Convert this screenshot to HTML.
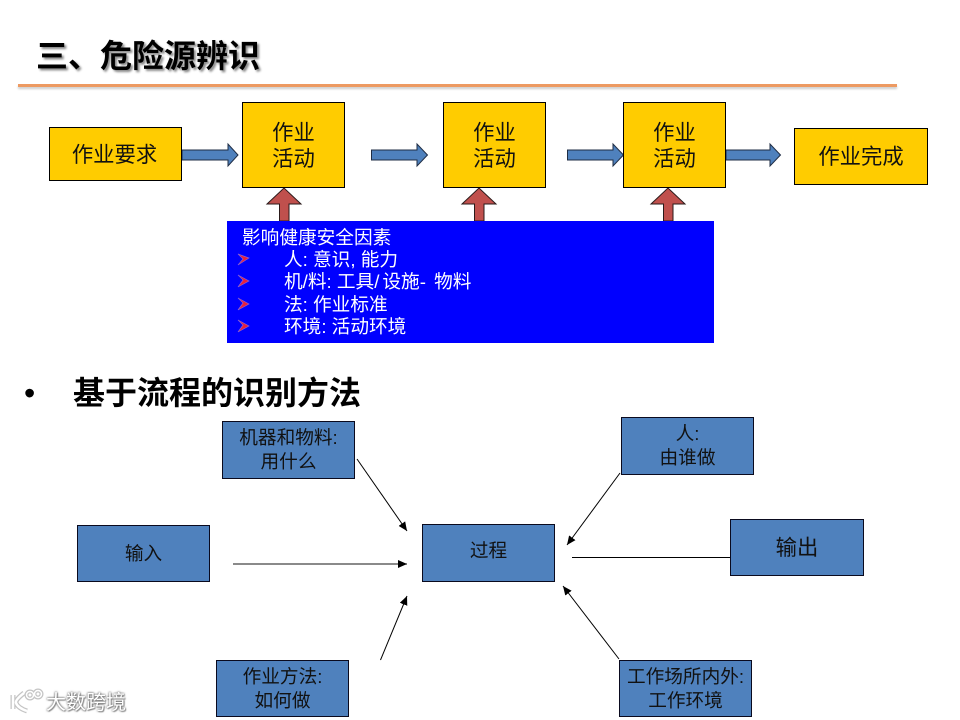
<!DOCTYPE html>
<html lang="zh">
<head>
<meta charset="utf-8">
<style>
html,body{margin:0;padding:0;background:#fff;}
#p{position:relative;width:960px;height:720px;overflow:hidden;background:#fff;font-family:"Liberation Sans","Noto Sans CJK SC",sans-serif;}
.b{position:absolute;box-sizing:border-box;border:1.3px solid #000;display:flex;align-items:center;justify-content:center;text-align:center;font-size:21.33px;line-height:26px;color:#111;}
.y{background:#ffcc00;}
.s{background:#4f81bd;border-color:#0a0a1e;font-size:18.67px;line-height:24px;}
.h{position:absolute;font-weight:bold;font-size:32px;line-height:38px;color:#000;white-space:nowrap;}
.l{position:absolute;left:284px;color:#fff;font-size:18.67px;line-height:22px;white-space:nowrap;}
.l span{letter-spacing:3px;}
svg{position:absolute;left:0;top:0;}
</style>
</head>
<body>
<div id="p">
<div class="h" style="left:36px;top:37px;text-shadow:2px 2px 2px #888;">三、危险源辨识</div>
<div style="position:absolute;left:18px;top:84px;width:879px;height:3px;background:#ed9a62;box-shadow:0 2px 2px #ccc;"></div>

<svg width="960" height="720" viewBox="0 0 960 720">
<defs>
<marker id="m" markerUnits="userSpaceOnUse" markerWidth="10" markerHeight="10" refX="9" refY="4" orient="auto"><path d="M0 0L9 4L0 8Z" fill="#000"/></marker>
</defs>
<g fill="#4f81bd" stroke="#1f2d44" stroke-width="1">
<path d="M182 150H228V144L238 155L228 166V160H182Z"/>
<path d="M371.500 150H417V144L427.500 155L417 166V160H371.500Z"/>
<path d="M567.500 150H613V144L623.500 155L613 166V160H567.500Z"/>
<path d="M726 150H770V144L780.500 155L770 166V160H726Z"/>
</g>
<g fill="#c0504d" stroke="#2a1a1a" stroke-width="1">
<path d="M279.500 221V204H267L284 188L301 204H289V221Z"/>
<path d="M474.500 221V204H462L479 188L496 204H484V221Z"/>
<path d="M663.500 221V204H651L668 188L685 204H673V221Z"/>
</g>
</svg>

<div class="b y" style="left:49px;top:127px;width:133px;height:54px;padding-top:1px;padding-right:2px;">作业要求</div>
<div class="b y" style="left:242px;top:102px;width:103px;height:86px;padding-top:1px;">作业<br>活动</div>
<div class="b y" style="left:443px;top:102px;width:103px;height:86px;padding-top:1px;">作业<br>活动</div>
<div class="b y" style="left:623px;top:102px;width:103px;height:86px;padding-top:1px;">作业<br>活动</div>
<div class="b y" style="left:794px;top:128px;width:134px;height:57px;">作业完成</div>

<div style="position:absolute;left:227px;top:221px;width:487px;height:122px;background:#0000ff;"></div>
<div class="l" style="left:242px;top:227px;">影响健康安全因素</div>
<div class="l" style="top:249px;">人: 意识, 能力</div>
<div class="l" style="top:271px;">机/料: 工具<span>/</span>设施<span>-</span> 物料</div>
<div class="l" style="top:294px;">法: 作业标准</div>
<div class="l" style="top:316px;">环境: 活动环境</div>
<svg width="960" height="720" viewBox="0 0 960 720">
<g fill="#e8203a" stroke="#9060d0" stroke-width=".7">
<path d="M238 254L249 258L238 265L243 259Z"/>
<path d="M238 275L249 281L238 287L243 280Z"/>
<path d="M238 298L249 304L238 310L243 303Z"/>
<path d="M238 320L249 326L238 332L243 325Z"/>
</g>
</svg>

<div class="h" style="left:24px;top:374px;font-weight:normal;">•</div>
<div class="h" style="left:73px;top:374px;">基于流程的识别方法</div>

<div class="b s" style="left:222px;top:421px;width:133px;height:58px;">机器和物料:<br>用什么</div>
<div class="b s" style="left:621px;top:417px;width:133px;height:58px;">人:<br>由谁做</div>
<div class="b s" style="left:77px;top:525px;width:133px;height:57px;">输入</div>
<div class="b s" style="left:422px;top:524px;width:133px;height:58px;padding-bottom:4px;">过程</div>
<div class="b s" style="left:730px;top:519px;width:134px;height:57px;font-size:21.33px;">输出</div>
<div class="b s" style="left:216px;top:660px;width:133px;height:57px;">作业方法:<br>如何做</div>
<div class="b s" style="left:619px;top:660px;width:133px;height:57px;">工作场所内外:<br>工作环境</div>

<svg width="960" height="720" viewBox="0 0 960 720">
<g stroke="#000" stroke-width="1" fill="none" marker-end="url(#m)">
<path d="M357 459L407 531"/>
<path d="M233 564L407 564" stroke="#444" stroke-width="1.200"/>
<path d="M620 473L567 545"/>
<path d="M380.500 660L407 596"/>
<path d="M619 659L563 586"/>
</g>
<path d="M572 557.500H730" stroke="#000" stroke-width="1"/>
<g fill="none" stroke="#c4c4c4" stroke-width="5">
<path d="M13 695V709M24 693Q15 700 16 703Q18 708 27 711"/>
<circle cx="30" cy="695" r="3.500" stroke-width="4"/>
<circle cx="38" cy="694" r="3.500" stroke-width="4"/>
</g>
<g fill="none" stroke="#fff" stroke-width="2.500">
<path d="M13 695V709M24 693Q15 700 16 703Q18 708 27 711"/>
<circle cx="30" cy="695" r="3.500" stroke-width="1.500"/>
<circle cx="38" cy="694" r="3.500" stroke-width="1.500"/>
</g>
</svg>
<div style="position:absolute;left:46px;top:691px;font-size:20px;line-height:24px;color:#fff;white-space:nowrap;text-shadow:0 0 2px #777,0 0 2px #777,1px 1px 1px #999;">大数跨境</div>
</div>
</body>
</html>
